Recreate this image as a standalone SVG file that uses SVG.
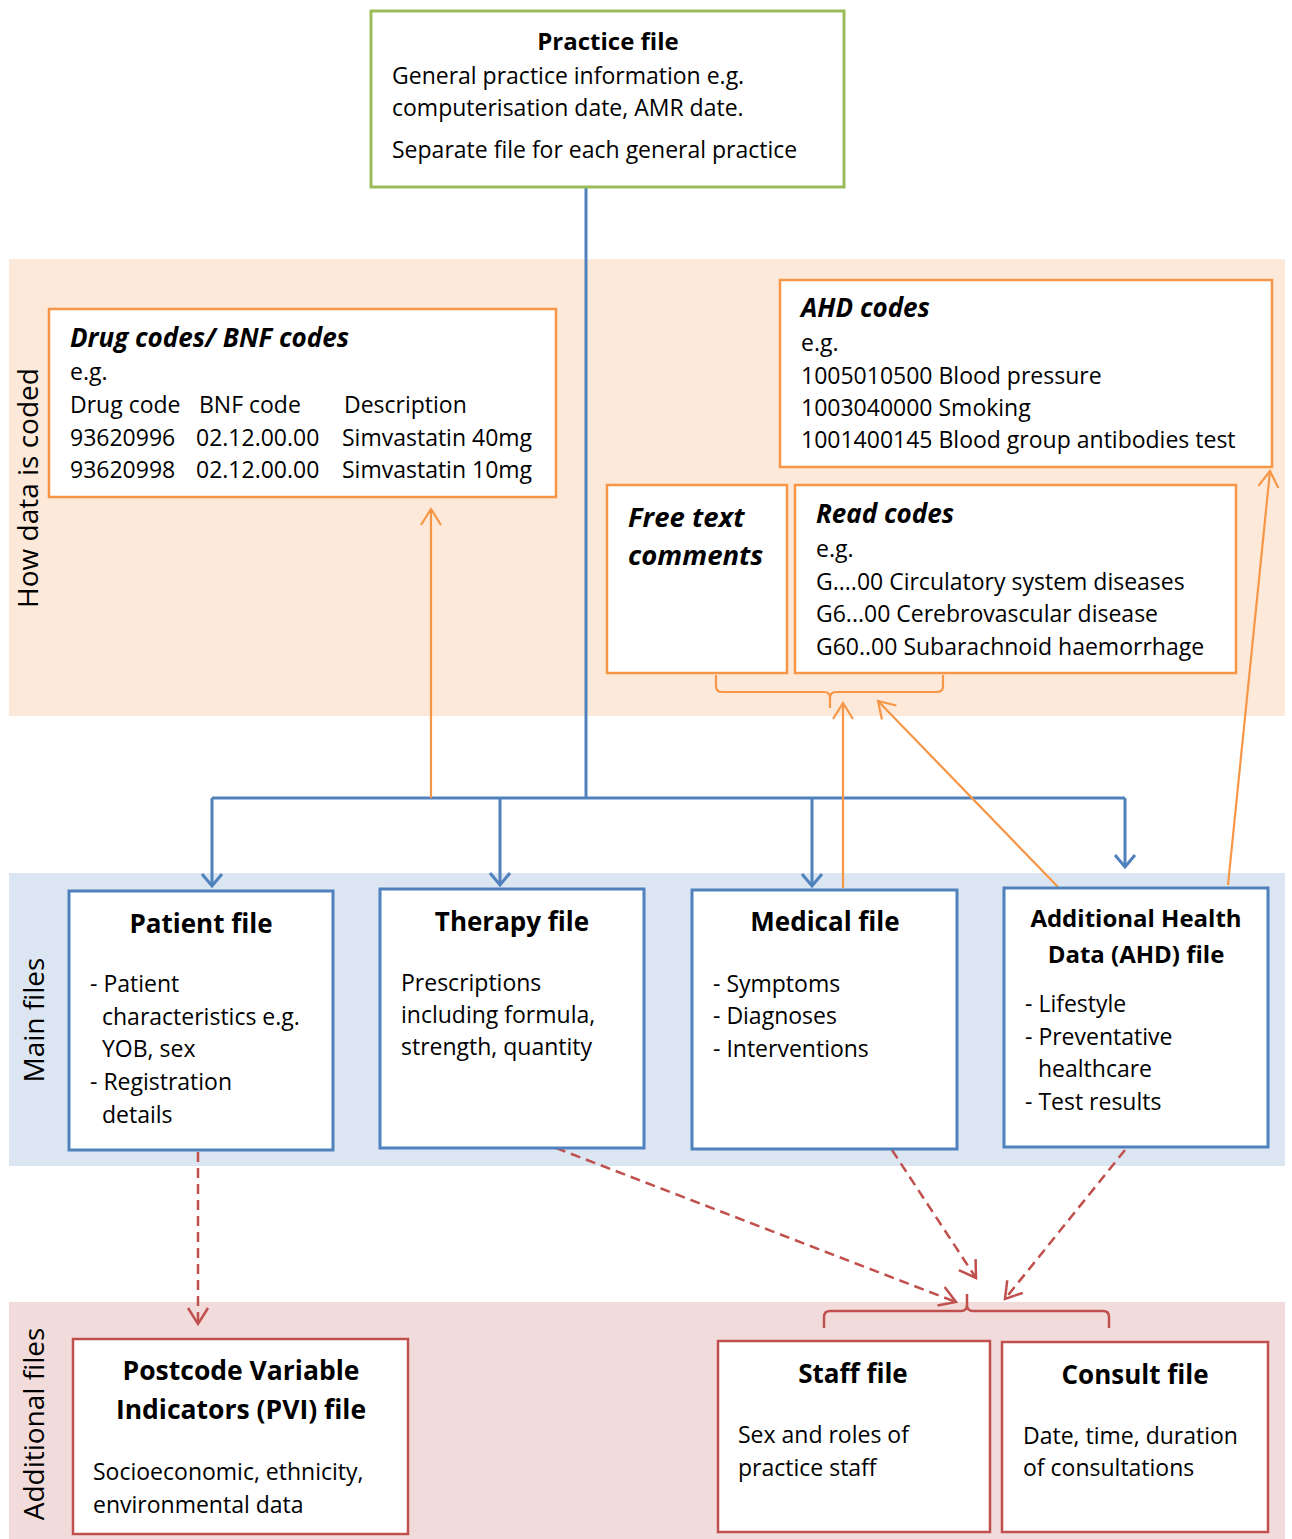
<svg xmlns="http://www.w3.org/2000/svg" width="1292" height="1539" viewBox="0 0 1292 1539">
  <style>
    text { font-family: "Open Sans", "Noto Sans", "DejaVu Sans", sans-serif; fill: #000; }
    .body { font-size: 23px; }
    .title { font-size: 26px; font-weight: bold; text-anchor: middle; }
    .code-title { font-size: 26px; font-weight: bold; font-style: italic; }
    .side { font-size: 28px; text-anchor: middle; }
    .box { fill: #fff; }
    .blue-box { stroke: #4F81BD; stroke-width: 3; }
    .orange-box { stroke: #F79646; stroke-width: 2.5; }
    .red-box { stroke: #C0504D; stroke-width: 2.5; }
    .green-box { stroke: #9BBB59; stroke-width: 3; }
    .blue-line { fill: none; stroke: #4F81BD; stroke-width: 3; }
    .orange-line { fill: none; stroke: #F79646; stroke-width: 2.2; }
    .red-line { fill: none; stroke: #C0504D; stroke-width: 2.5; stroke-dasharray: 10 6; }
    .red-solid { fill: none; stroke: #C0504D; stroke-width: 2.5; }
  </style>
  <defs>
    <marker id="arrow-blue" markerUnits="userSpaceOnUse" viewBox="-16 -14 20 28" markerWidth="20" markerHeight="28" refX="0" refY="0" orient="auto">
      <polyline points="-12,-10 0,0 -12,10" fill="none" stroke="#4F81BD" stroke-width="3"/>
    </marker>
    <marker id="arrow-orange" markerUnits="userSpaceOnUse" viewBox="-20 -14 24 28" markerWidth="24" markerHeight="28" refX="0" refY="0" orient="auto">
      <polyline points="-16,-10 0,0 -16,10" fill="none" stroke="#F79646" stroke-width="2.2"/>
    </marker>
    <marker id="arrow-red" markerUnits="userSpaceOnUse" viewBox="-20 -14 24 28" markerWidth="24" markerHeight="28" refX="0" refY="0" orient="auto">
      <polyline points="-16,-10 0,0 -16,10" fill="none" stroke="#C0504D" stroke-width="2.5"/>
    </marker>
  </defs>

  <!-- background bands -->
  <g id="bands">
    <rect x="9" y="259" width="1276" height="457" fill="#FDE9D9"/>
    <rect x="9" y="873" width="1276" height="293" fill="#DCE6F2"/>
    <rect x="9" y="1302" width="1276" height="237" fill="#F2DCDB"/>
    <text class="side" transform="translate(38,488) rotate(-90)">How data is coded</text>
    <text class="side" transform="translate(44,1020) rotate(-90)">Main files</text>
    <text class="side" transform="translate(44,1424) rotate(-90)">Additional files</text>
  </g>

  <!-- connectors -->
  <g id="connectors">
    <!-- practice file to main files -->
    <path class="blue-line" d="M586,187 V798"/>
    <path class="blue-line" d="M212,798 H1125"/>
    <path class="blue-line" d="M212,798 V886" marker-end="url(#arrow-blue)"/>
    <path class="blue-line" d="M500,798 V885" marker-end="url(#arrow-blue)"/>
    <path class="blue-line" d="M812,798 V886" marker-end="url(#arrow-blue)"/>
    <path class="blue-line" d="M1125,798 V867" marker-end="url(#arrow-blue)"/>

    <!-- main files to coding schemes -->
    <path class="orange-line" d="M431,798 V509" marker-end="url(#arrow-orange)"/>
    <path class="orange-line" d="M843,888 V703" marker-end="url(#arrow-orange)"/>
    <path class="orange-line" d="M1058,887 L878,701" marker-end="url(#arrow-orange)"/>
    <path class="orange-line" d="M1228,885 L1270,471" marker-end="url(#arrow-orange)"/>
    <!-- brace under free text / read codes -->
    <path class="orange-line" d="M716,675 V686 Q716,692 722,692 H824 Q830,692 830,698 V708 M830,698 Q830,692 836,692 H937 Q943,692 943,686 V675"/>

    <!-- main files to additional files -->
    <path class="red-line" d="M198,1152 V1324" marker-end="url(#arrow-red)"/>
    <path class="red-line" d="M556,1148 L956,1302" marker-end="url(#arrow-red)"/>
    <path class="red-line" d="M892,1150 L976,1278" marker-end="url(#arrow-red)"/>
    <path class="red-line" d="M1125,1150 L1005,1299" marker-end="url(#arrow-red)"/>
    <!-- brace over staff / consult -->
    <path class="red-solid" d="M824,1328 V1317 Q824,1311 830,1311 H961 Q967,1311 967,1305 V1294 M967,1305 Q967,1311 973,1311 H1103 Q1109,1311 1109,1317 V1328"/>
  </g>

  <!-- practice file -->
  <g id="practice-file">
    <rect class="box green-box" x="371" y="11" width="473" height="176"/>
    <text class="title" x="608" y="50" style="font-size:24px">Practice file</text>
    <text class="body" x="392" y="84">General practice information e.g.</text>
    <text class="body" x="392" y="116">computerisation date, AMR date.</text>
    <text class="body" x="392" y="158">Separate file for each general practice</text>
  </g>

  <!-- coding schemes -->
  <g id="drug-codes">
    <rect class="box orange-box" x="49" y="309" width="507" height="188"/>
    <text class="code-title" x="70" y="347">Drug codes/ BNF codes</text>
    <text class="body" x="70" y="380">e.g.</text>
    <text class="body" x="70" y="413">Drug code</text>
    <text class="body" x="199" y="413">BNF code</text>
    <text class="body" x="344" y="413">Description</text>
    <text class="body" x="70" y="446">93620996</text>
    <text class="body" x="196" y="446">02.12.00.00</text>
    <text class="body" x="342" y="446">Simvastatin 40mg</text>
    <text class="body" x="70" y="478">93620998</text>
    <text class="body" x="196" y="478">02.12.00.00</text>
    <text class="body" x="342" y="478">Simvastatin 10mg</text>
  </g>

  <g id="ahd-codes">
    <rect class="box orange-box" x="780" y="280" width="492" height="187"/>
    <text class="code-title" x="801" y="317">AHD codes</text>
    <text class="body" x="801" y="351">e.g.</text>
    <text class="body" x="801" y="384">1005010500 Blood pressure</text>
    <text class="body" x="801" y="416">1003040000 Smoking</text>
    <text class="body" x="801" y="448">1001400145 Blood group antibodies test</text>
  </g>

  <g id="free-text">
    <rect class="box orange-box" x="607" y="485" width="180" height="188"/>
    <text class="code-title" x="628" y="527" style="font-size:27.5px">Free text</text>
    <text class="code-title" x="628" y="565" style="font-size:27.5px">comments</text>
  </g>

  <g id="read-codes">
    <rect class="box orange-box" x="795" y="485" width="441" height="188"/>
    <text class="code-title" x="816" y="523">Read codes</text>
    <text class="body" x="816" y="557">e.g.</text>
    <text class="body" x="816" y="590">G....00 Circulatory system diseases</text>
    <text class="body" x="816" y="622">G6...00 Cerebrovascular disease</text>
    <text class="body" x="816" y="655">G60..00 Subarachnoid haemorrhage</text>
  </g>

  <!-- main files -->
  <g id="patient-file">
    <rect class="box blue-box" x="69" y="891" width="264" height="259"/>
    <text class="title" x="201" y="933">Patient file</text>
    <text class="body" x="90" y="992">- Patient</text>
    <text class="body" x="102" y="1025">characteristics e.g.</text>
    <text class="body" x="102" y="1057">YOB, sex</text>
    <text class="body" x="90" y="1090">- Registration</text>
    <text class="body" x="102" y="1123">details</text>
  </g>

  <g id="therapy-file">
    <rect class="box blue-box" x="380" y="889" width="264" height="259"/>
    <text class="title" x="512" y="931">Therapy file</text>
    <text class="body" x="401" y="991">Prescriptions</text>
    <text class="body" x="401" y="1023">including formula,</text>
    <text class="body" x="401" y="1055">strength, quantity</text>
  </g>

  <g id="medical-file">
    <rect class="box blue-box" x="692" y="890" width="265" height="259"/>
    <text class="title" x="825" y="931">Medical file</text>
    <text class="body" x="713" y="992">- Symptoms</text>
    <text class="body" x="713" y="1024">- Diagnoses</text>
    <text class="body" x="713" y="1057">- Interventions</text>
  </g>

  <g id="ahd-file">
    <rect class="box blue-box" x="1004" y="888" width="264" height="259"/>
    <text class="title" x="1136" y="927" style="font-size:24px">Additional Health</text>
    <text class="title" x="1136" y="963" style="font-size:24px">Data (AHD) file</text>
    <text class="body" x="1025" y="1012">- Lifestyle</text>
    <text class="body" x="1025" y="1045">- Preventative</text>
    <text class="body" x="1038" y="1077">healthcare</text>
    <text class="body" x="1025" y="1110">- Test results</text>
  </g>

  <!-- additional files -->
  <g id="pvi-file">
    <rect class="box red-box" x="73" y="1339" width="335" height="195"/>
    <text class="title" x="241" y="1380" style="font-size:26.5px">Postcode Variable</text>
    <text class="title" x="241" y="1419" style="font-size:26.5px">Indicators (PVI) file</text>
    <text class="body" x="93" y="1480">Socioeconomic, ethnicity,</text>
    <text class="body" x="93" y="1513">environmental data</text>
  </g>

  <g id="staff-file">
    <rect class="box red-box" x="718" y="1341" width="272" height="191"/>
    <text class="title" x="853" y="1383">Staff file</text>
    <text class="body" x="738" y="1443">Sex and roles of</text>
    <text class="body" x="738" y="1476">practice staff</text>
  </g>

  <g id="consult-file">
    <rect class="box red-box" x="1002" y="1342" width="266" height="190"/>
    <text class="title" x="1135" y="1384">Consult file</text>
    <text class="body" x="1023" y="1444">Date, time, duration</text>
    <text class="body" x="1023" y="1476">of consultations</text>
  </g>
</svg>
